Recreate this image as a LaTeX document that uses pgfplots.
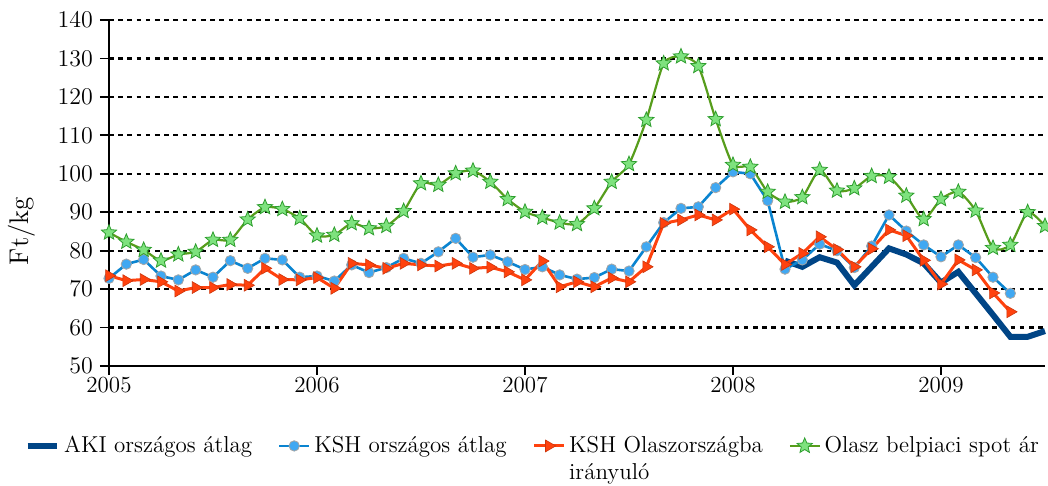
\documentclass[border=0pt]{standalone}
\usepackage{pgfplots}
\pgfplotsset{compat=1.18}

\definecolor{akiblue}{HTML}{004586}
\definecolor{kshline}{HTML}{0A84D0}
\definecolor{kshfill}{HTML}{40A8F2}
\definecolor{olred}{HTML}{FF420E}
\definecolor{spotline}{HTML}{579D1C}
\definecolor{spotfill}{HTML}{7EE27E}
\definecolor{spotedge}{HTML}{2E9E2E}

% filled five-point star
\pgfdeclareplotmark{fstar}{%
  \pgfpathmoveto{\pgfpointpolar{90}{\pgfplotmarksize}}%
  \pgfpathlineto{\pgfpointpolar{126}{0.45\pgfplotmarksize}}%
  \pgfpathlineto{\pgfpointpolar{162}{\pgfplotmarksize}}%
  \pgfpathlineto{\pgfpointpolar{198}{0.45\pgfplotmarksize}}%
  \pgfpathlineto{\pgfpointpolar{234}{\pgfplotmarksize}}%
  \pgfpathlineto{\pgfpointpolar{270}{0.45\pgfplotmarksize}}%
  \pgfpathlineto{\pgfpointpolar{306}{\pgfplotmarksize}}%
  \pgfpathlineto{\pgfpointpolar{342}{0.45\pgfplotmarksize}}%
  \pgfpathlineto{\pgfpointpolar{18}{\pgfplotmarksize}}%
  \pgfpathlineto{\pgfpointpolar{54}{0.45\pgfplotmarksize}}%
  \pgfpathclose
  \pgfusepathqfillstroke}

\newcommand{\lblfont}{\fontsize{11.5}{13.5}\selectfont}

\begin{document}
\begin{tikzpicture}
\useasboundingbox (-54.5pt,-60pt) rectangle (469.5pt,183pt);
\begin{axis}[
    at={(0,0)}, anchor=south west,
    scale only axis, width=468pt, height=173pt,
    xmin=0, xmax=54, ymin=50, ymax=140,
    clip=false,
    axis lines*=left, axis line style={-, line width=0.9pt},
    xtick={0,12,24,36,48}, xticklabels={2005,2006,2007,2008,2009},
    ytick={50,60,...,140},
    tick align=outside, major tick length=4.5pt,
    tick style={black, line width=0.9pt},
    ymajorgrids,
    grid style={black, line width=1.1pt, dash pattern=on 2.3pt off 2.3pt},
    tick label style={font=\lblfont},
    xticklabel style={yshift=2.5pt},
    ylabel={Ft/kg},
    ylabel style={font=\fontsize{13.5}{15}\selectfont, at={(axis description cs:-0.093,0.39)}, anchor=center},
    legend columns=4,
    legend cell align=left,
    legend image code/.code={\draw[mark repeat=2,mark phase=2] plot coordinates {(0cm,0cm) (0.26cm,0cm) (0.52cm,0cm)};},
    legend style={draw=none, fill=none, font=\lblfont,
        at={(-0.097,-0.231)}, anchor=west,
        /tikz/every even column/.append style={column sep=11pt}},
]
\addplot[akiblue, line width=3pt, no markers] coordinates {
(39,77.4)(40,75.8)(41,78.3)(42,76.9)(43,71.0)(44,75.8)(45,80.6)(46,79.0)
(47,76.7)(48,71.7)(49,74.5)(50,68.9)(51,63.3)(52,57.6)(53,57.6)(54,59.1)
};
\addlegendentry{AKI országos átlag}

\addplot[kshline, line width=1.3pt, mark=*, mark size=2.6pt,
    mark options={fill=kshfill, draw=gray!70, line width=0.4pt}] coordinates {
(0,72.8)(1,76.5)(2,77.7)(3,73.4)(4,72.4)(5,75.0)(6,73.1)(7,77.4)(8,75.4)
(9,78.0)(10,77.6)(11,73.1)(12,73.4)(13,72.1)(14,76.3)(15,74.3)(16,75.6)
(17,78.0)(18,76.7)(19,79.7)(20,83.2)(21,78.3)(22,78.9)(23,77.1)(24,75.1)
(25,75.8)(26,73.7)(27,72.6)(28,73.0)(29,75.2)(30,74.7)(31,81.0)(32,87.3)
(33,91.0)(34,91.4)(35,96.4)(36,100.5)(37,100.0)(38,93.0)(39,75.2)(40,77.6)
(41,81.7)(42,80.0)(43,75.6)(44,81.2)(45,89.3)(46,85.1)(47,81.5)(48,78.4)
(49,81.5)(50,78.2)(51,73.1)(52,68.9)
};
\addlegendentry{KSH országos átlag}

\addplot[olred, line width=1.5pt, mark=triangle*, mark size=3.4pt,
    mark options={rotate=-90, fill=olred, draw=olred!80!black, line width=0.3pt}] coordinates {
(0,73.5)(1,72.2)(2,72.5)(3,71.9)(4,69.5)(5,70.4)(6,70.4)(7,71.2)(8,71.0)
(9,75.4)(10,72.5)(11,72.4)(12,73.0)(13,70.2)(14,76.7)(15,76.3)(16,75.4)
(17,76.7)(18,76.3)(19,76.0)(20,76.7)(21,75.4)(22,75.7)(23,74.5)(24,72.4)
(25,77.3)(26,70.6)(27,71.9)(28,70.6)(29,72.9)(30,71.9)(31,75.8)(32,87.1)
(33,88.0)(34,89.3)(35,88.0)(36,90.8)(37,85.4)(38,81.0)(39,76.4)(40,79.3)
(41,83.6)(42,80.3)(43,75.8)(44,80.5)(45,85.4)(46,83.9)(47,77.5)(48,71.3)
(49,77.6)(50,75.0)(51,69.0)(52,64.1)
};
\addlegendentry{\vphantom{KSH}\smash{\begin{tabular}[t]{@{}l@{}}KSH Olaszországba\\irányuló\end{tabular}}}

\addplot[spotline, line width=1.1pt, smooth, tension=0.4, mark=fstar, mark size=4pt,
    mark options={fill=spotfill, draw=spotedge, line width=0.4pt}] coordinates {
(0,84.7)(1,82.3)(2,80.2)(3,77.4)(4,79.0)(5,79.7)(6,82.8)(7,82.8)(8,88.1)
(9,91.3)(10,90.8)(11,88.4)(12,83.9)(13,84.1)(14,87.1)(15,85.8)(16,86.4)
(17,90.3)(18,97.5)(19,97.1)(20,100.1)(21,100.8)(22,97.9)(23,93.4)(24,90.1)
(25,88.6)(26,87.3)(27,86.9)(28,91.0)(29,97.9)(30,102.5)(31,114.0)(32,128.7)
(33,130.5)(34,128.0)(35,114.2)(36,102.3)(37,101.8)(38,95.3)(39,92.7)(40,93.9)
(41,101.0)(42,95.6)(43,96.2)(44,99.4)(45,99.2)(46,94.3)(47,88.2)(48,93.4)
(49,95.3)(50,90.4)(51,80.7)(52,81.5)(53,90.0)(54,86.4)
};
\addlegendentry{Olasz belpiaci spot ár}
\end{axis}
\end{tikzpicture}
\end{document}
